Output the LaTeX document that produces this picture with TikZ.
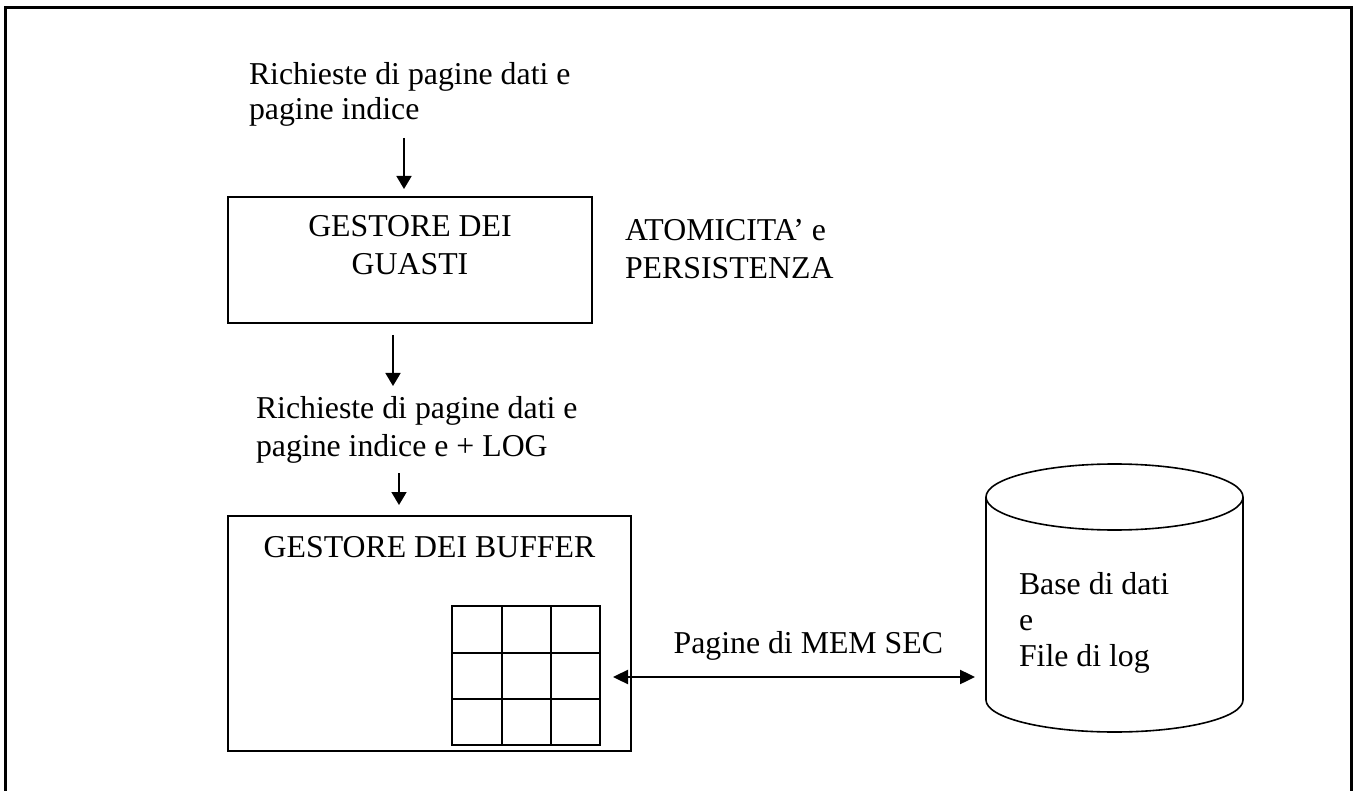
\documentclass[tikz,border=0pt]{standalone}
\usepackage{fontspec}
\setmainfont{Liberation Serif}
\usetikzlibrary{arrows.meta}
\begin{document}
\begin{tikzpicture}[x=1pt,y=-1pt,
  every node/.style={inner sep=0pt,outer sep=0pt,font=\fontsize{31.8}{37}\selectfont},
  txt/.style={anchor=base west,align=left},
  boxline/.style={line width=1.6pt},
  arr/.style={line width=1.8pt,-{Triangle[length=13pt,width=15pt]}},
  darr/.style={line width=2.4pt,{Triangle[length=15pt,width=14pt]}-{Triangle[length=15pt,width=14pt]}}]
\useasboundingbox (0,0) rectangle (1357,791);
% outer frame (open at bottom, cropped)
\draw[line width=3pt] (5,800) -- (5,8) -- (1351,8) -- (1351,800);
% text 1
\node[txt] (t1a) at (249,85) {Richieste di pagine dati e};
\node[txt] (t1b) at (249,120) {pagine indice};
\coordinate (a1s) at (404,138);
\coordinate (a1e) at (404,189);
\draw[arr] (a1s) -- (a1e);
% box guasti
\draw[boxline] (228,197) rectangle (592,323);
\node[anchor=base] (g1) at (410,237) {GESTORE DEI};
\node[anchor=base] (g2) at (410,275) {GUASTI};
% atomicita
\node[txt] (at1) at (625,241) {ATOMICITA’ e};
\node[txt] (at2) at (625,279) {PERSISTENZA};
% arrow 2
\coordinate (a2s) at (393,335);
\coordinate (a2e) at (393,386);
\draw[arr] (a2s) -- (a2e);
% text 2
\node[txt] (t2a) at (256,418) {Richieste di pagine dati e};
\node[txt] (t2b) at (256,456) {pagine indice e + LOG};
% arrow 3
\coordinate (a3s) at (399,473);
\coordinate (a3e) at (399,505);
\draw[arr] (a3s) -- (a3e);
% box buffer
\draw[boxline] (228,516) rectangle (631,751);
\node[anchor=base] (b1) at (429.5,557) {GESTORE DEI BUFFER};
% grid
\draw[boxline] (452,606) rectangle (600,745);
\draw[boxline] (502,606) -- (502,745) (551,606) -- (551,745)
  (452,653) -- (600,653) (452,699) -- (600,699);
% double arrow
\coordinate (dl) at (613,677);
\coordinate (dr) at (975,677);
\draw[darr] (dl) -- (dr);
\node[anchor=base east] (mem) at (943,653) {Pagine di MEM SEC};
% cylinder
\draw[boxline] (986,497) -- (986,700) arc[start angle=180,end angle=0,x radius=128.5,y radius=32] -- (1243,497);
\draw[boxline] (1114.5,497) ellipse[x radius=128.5,y radius=33];
\node[txt] (c1) at (1019,594) {Base di dati};
\node[txt] (c2) at (1019,630) {e};
\node[txt] (c3) at (1019,666) {File di log};
\end{tikzpicture}
\end{document}
